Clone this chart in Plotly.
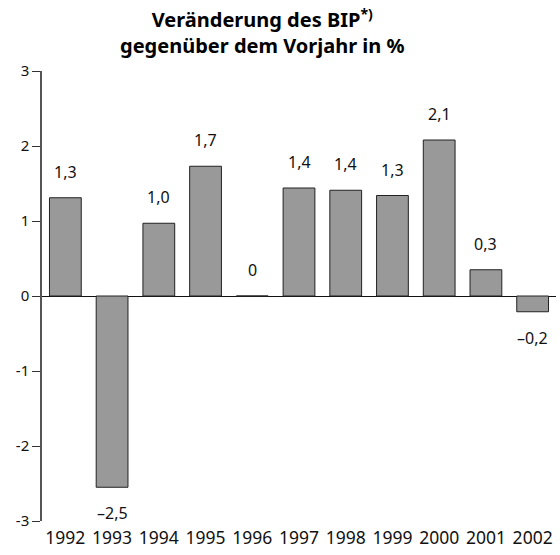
import plotly.graph_objects as go

years = ["1992", "1993", "1994", "1995", "1996", "1997", "1998", "1999", "2000", "2001", "2002"]
values = [1.31, -2.55, 0.97, 1.73, 0.0, 1.44, 1.41, 1.34, 2.08, 0.35, -0.21]
labels = ["1,3", "–2,5", "1,0", "1,7", "0", "1,4", "1,4", "1,3", "2,1", "0,3", "–0,2"]
ytick_vals = [3, 2, 1, 0, -1, -2, -3]
ytick_text = ["3", "2", "1", "0", "-1", "-2", "-3"]

FONT = "Noto Sans"

fig = go.Figure()
fig.add_trace(go.Bar(
    x=years, y=values,
    marker=dict(color="#999999", line=dict(color="#222222", width=1)),
    hoverinfo="skip",
))

annotations = []
for i, (v, lab) in enumerate(zip(values, labels)):
    annotations.append(dict(
        x=i, y=v, xref="x", yref="y", text=lab, showarrow=False,
        yshift=26 if v >= 0 else -26,
        font=dict(family=FONT, size=16, color="#111111"),
    ))

plot_w = 560 - 42 - 4
plot_h = 555 - 71 - 34
annotations.append(dict(
    x=(262 - 42) / plot_w, xanchor="center",
    y=1 + (71 - 2) / plot_h, yanchor="top",
    xref="paper", yref="paper", showarrow=False,
    text="<b>Veränderung des BIP<sup>*)</sup><br>gegenüber dem Vorjahr in %</b>",
    font=dict(family=FONT, size=20, color="#000000"),
))

fig.update_layout(
    width=560, height=555,
    margin=dict(l=42, r=4, t=71, b=34, autoexpand=False),
    paper_bgcolor="white", plot_bgcolor="white",
    bargap=0.32,
    showlegend=False,
    annotations=annotations,
    xaxis=dict(
        type="category", range=[-0.5, 10.5], automargin=False,
        showline=False, showgrid=False, zeroline=False,
        ticks="outside", ticklen=1, tickcolor="rgba(0,0,0,0)",
        tickfont=dict(family=FONT, size=17.5, color="#111111"),
    ),
    yaxis=dict(
        range=[-3, 3], tickvals=ytick_vals, ticktext=ytick_text, automargin=False,
        showline=True, linecolor="#555555", linewidth=1.5,
        ticks="outside", ticklen=8, tickcolor="#333333", tickwidth=1,
        showgrid=False,
        zeroline=True, zerolinecolor="#111111", zerolinewidth=1.3,
        tickfont=dict(family=FONT, size=15, color="#111111"),
    ),
)

fig.write_html(
    "out.html",
    config={"displayModeBar": False},
    post_script="document.body.style.margin='0';document.body.style.overflow='hidden';",
)
